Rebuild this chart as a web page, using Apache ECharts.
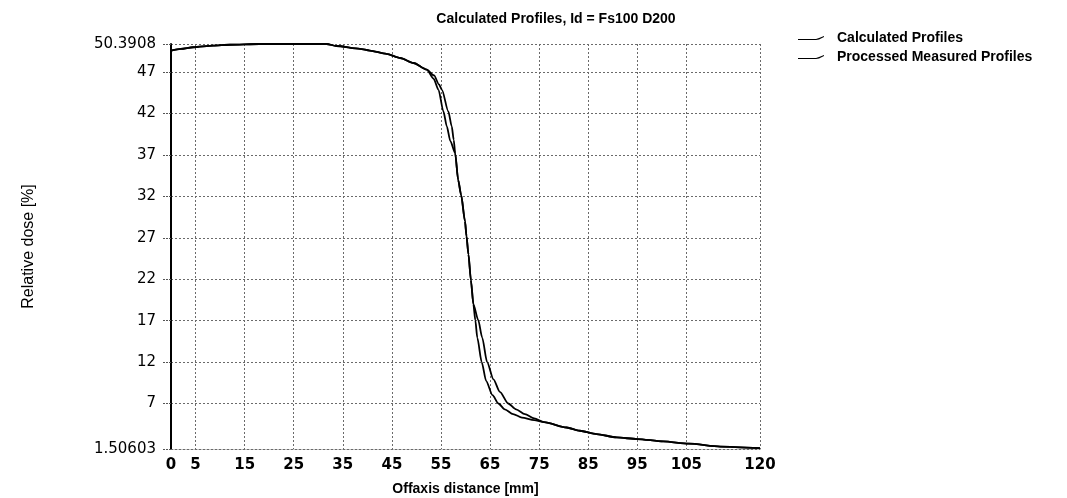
<!DOCTYPE html>
<html>
<head>
<meta charset="utf-8">
<script src="https://cdn.jsdelivr.net/npm/echarts@6/dist/echarts.min.js"></script>
<style>
  html, body { margin: 0; padding: 0; background: #fff; }
  #chart { width: 1067px; height: 498px; }
</style>
</head>
<body>
<div id="chart"></div>
<script>
// shoulder of the profile (shared by both curves)
const headX = [0, 2, 4.5, 8.6, 12, 18, 25, 31.7, 33.7, 38.5, 40.5, 43.9, 46.7, 49.4, 52.1]
const headY = [49.6, 49.8, 50.0, 50.2, 50.3, 50.3908, 50.3908, 50.3908, 50.15, 49.8, 49.6, 49.2, 48.7, 48.1, 47.3]
// penumbra, calculated (steeper)
const calcX = [53.6, 54.6, 55.2, 56.5, 57.2, 57.6, 57.9, 58.5, 59.1, 59.9, 60.2, 60.6, 61.1, 61.6, 62.0, 62.4, 63.3, 64.2, 65.5, 66.7, 68, 69.7, 71.5, 74]
const calcY = [46.6, 45.5, 44.86, 42.25, 40.44, 38.83, 37.2, 34.0, 32.2, 29.0, 27.2, 25.0, 21.9, 19.0, 17.05, 14.95, 12.0, 9.73, 8.0, 7.0, 6.3, 5.72, 5.3, 5.0]
// penumbra, measured (broader)
const measX = [53.5, 54.5, 55.5, 56.2, 56.9, 57.9, 58.5, 59.1, 59.9, 60.2, 60.6, 61.1, 61.6, 62.6, 63.4, 64.4, 65.7, 67, 68.7, 70.3, 72.1, 74]
const measY = [46.2, 44.86, 42.25, 40.44, 38.7, 37.2, 34.0, 32.2, 29.0, 27.2, 25.0, 21.9, 19.0, 17.05, 14.95, 12.0, 9.9, 8.4, 7.0, 6.3, 5.72, 5.2]
// tail (shared)
const tailX = [76, 80.6, 83.3, 86.7, 90.8, 95, 100.3, 105.5, 111.9, 120]
const tailY = [4.75, 4.1, 3.71, 3.31, 2.9, 2.71, 2.42, 2.15, 1.8, 1.6]

const xTicks = [0, 5, 15, 25, 35, 45, 55, 65, 75, 85, 95, 105, 120]
const yTicks = [1.50603, 7, 12, 17, 22, 27, 32, 37, 42, 47, 50.3908]

function pairs(xs, ys) {
  return xs.map((x, i) => [x, ys[i]])
}
const calcData = pairs(headX, headY).concat(pairs(calcX, calcY), pairs(tailX, tailY))
const measData = pairs(headX, headY).concat(pairs(measX, measY), pairs(tailX, tailY))

const chart = echarts.init(document.getElementById('chart'))
const gridLine = { show: true, lineStyle: { color: '#6a6a6a', width: 1, type: [2, 2] } }
const boldText = { fontFamily: 'Liberation Sans', fontSize: 14, fontWeight: 'bold', color: '#000' }

chart.setOption({
  animation: false,
  backgroundColor: '#fff',
  title: {
    text: 'Calculated Profiles, Id = Fs100 D200',
    left: 551,
    textAlign: 'center',
    top: 7,
    textStyle: boldText
  },
  legend: {
    orient: 'vertical',
    left: 793,
    top: 26,
    icon: 'path://M0,4 L18,4 L21,3 L26,1 L26,2 L21,4.5 L18,5 L0,5 Z',
    itemWidth: 26,
    itemHeight: 5,
    itemGap: 5,
    textStyle: Object.assign({ padding: [0, 0, 0, 8] }, boldText),
    data: ['Calculated Profiles', 'Processed Measured Profiles']
  },
  grid: { left: 171, right: 307, top: 44, bottom: 49, outerBoundsMode: 'none' },
  xAxis: {
    type: 'value',
    min: 0,
    max: 120,
    name: 'Offaxis distance [mm]',
    nameLocation: 'middle',
    nameGap: 33,
    nameTextStyle: boldText,
    axisLine: { show: true, lineStyle: { color: '#6a6a6a', width: 1, type: [2, 2] } },
    axisTick: { show: false, customValues: xTicks },
    axisLabel: {
      customValues: xTicks,
      margin: 9,
      fontFamily: 'DejaVu Sans', fontSize: 15, fontWeight: 'bold', color: '#000'
    },
    splitLine: gridLine
  },
  yAxis: {
    type: 'value',
    min: yTicks[0],
    max: yTicks[yTicks.length - 1],
    name: 'Relative dose [%]',
    nameLocation: 'middle',
    nameGap: 134,
    nameRotate: 90,
    nameTextStyle: { fontFamily: 'Liberation Sans', fontSize: 16, color: '#000' },
    axisLine: { show: true, lineStyle: { color: '#000', width: 2 } },
    axisTick: { show: true, length: 9, customValues: yTicks, lineStyle: { color: '#555', type: [2, 1] } },
    axisLabel: {
      customValues: yTicks,
      margin: 15,
      formatter: v => String(v),
      fontFamily: 'DejaVu Sans', fontSize: 15, color: '#000'
    },
    splitLine: gridLine
  },
  series: [
    {
      name: 'Calculated Profiles',
      type: 'line',
      symbol: 'none',
      smooth: 0.25,
      smoothMonotone: 'x',
      lineStyle: { color: '#000', width: 1.8 },
      itemStyle: { color: '#000' },
      data: calcData
    },
    {
      name: 'Processed Measured Profiles',
      type: 'line',
      symbol: 'none',
      smooth: 0.25,
      smoothMonotone: 'x',
      lineStyle: { color: '#000', width: 1.8 },
      itemStyle: { color: '#000' },
      data: measData
    }
  ]
})
</script>
</body>
</html>
